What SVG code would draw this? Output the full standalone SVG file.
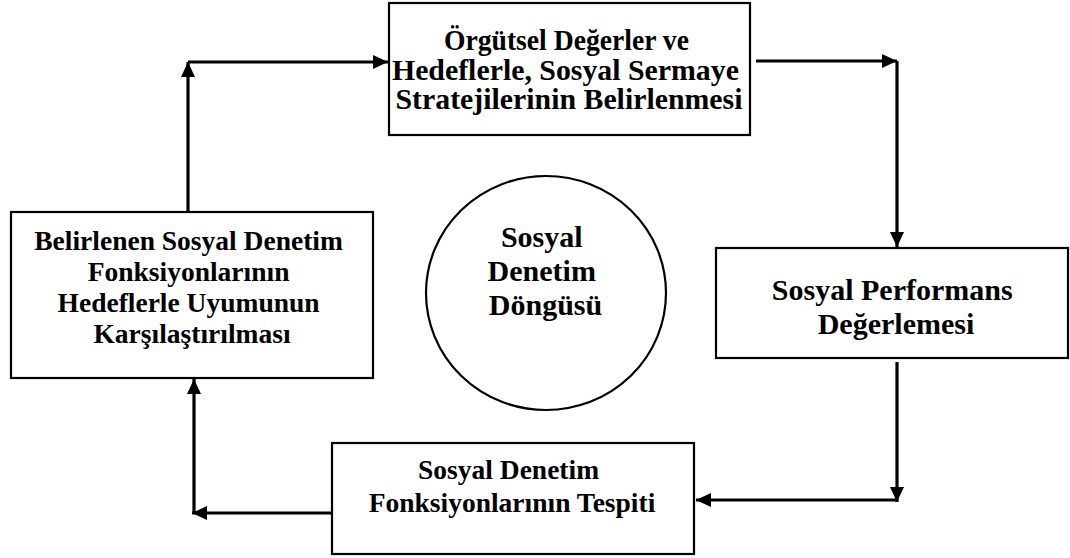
<svg xmlns="http://www.w3.org/2000/svg" width="1070" height="558" viewBox="0 0 1070 558">
<defs>
<style>
.box{fill:#fff;stroke:#000;stroke-width:2.2}
.t{font-family:"Liberation Serif","Times New Roman",serif;font-weight:bold;fill:#000;text-anchor:middle}
.c{fill:none;stroke:#000;stroke-width:3.2}
</style>
<marker id="ah" markerUnits="userSpaceOnUse" markerWidth="16" markerHeight="14" refX="15" refY="7" orient="auto">
<path d="M0,0 L15,7 L0,14 z" fill="#000"/>
</marker>
</defs>
<rect width="1070" height="558" fill="#fff"/>
<g id="connectors">
<path class="c" d="M188,212 L188,62" marker-end="url(#ah)"/>
<path class="c" d="M188,62 L388,62" marker-end="url(#ah)"/>
<path class="c" d="M756,61 L897,61" marker-end="url(#ah)"/>
<path class="c" d="M897,61 L897,247" marker-end="url(#ah)"/>
<path class="c" d="M897,362 L897,502" marker-end="url(#ah)"/>
<path class="c" d="M897,500 L696,500" marker-end="url(#ah)"/>
<path class="c" d="M332,513 L192,513" marker-end="url(#ah)"/>
<path class="c" d="M194,513 L194,379" marker-end="url(#ah)"/>
</g>
<g id="node-top">
<rect class="box" x="389" y="3" width="361" height="132"/>
<text class="t" font-size="28.5">
<tspan x="570" y="50" textLength="245" lengthAdjust="spacingAndGlyphs">Örgütsel Değerler ve</tspan>
<tspan x="569" y="80" textLength="347" lengthAdjust="spacingAndGlyphs">Hedeflerle, Sosyal Sermaye</tspan>
<tspan x="569" y="109" textLength="347" lengthAdjust="spacingAndGlyphs">Stratejilerinin Belirlenmesi</tspan>
</text>
</g>
<g id="node-left">
<rect class="box" x="11" y="212" width="362" height="166"/>
<text class="t" font-size="27.5">
<tspan x="192" y="250">Belirlenen Sosyal Denetim</tspan>
<tspan x="192" y="281">Fonksiyonlarının</tspan>
<tspan x="192" y="312">Hedeflerle Uyumunun</tspan>
<tspan x="192" y="343">Karşılaştırılması</tspan>
</text>
</g>
<g id="node-cycle">
<ellipse cx="546" cy="293" rx="120" ry="117" fill="#fff" stroke="#000" stroke-width="2.2"/>
<text class="t" font-size="30">
<tspan x="545.5" y="247">Sosyal</tspan>
<tspan x="545.5" y="281">Denetim</tspan>
<tspan x="545.5" y="315">Döngüsü</tspan>
</text>
</g>
<g id="node-right">
<rect class="box" x="716" y="248" width="352" height="110"/>
<text class="t" font-size="30">
<tspan x="896" y="300">Sosyal Performans</tspan>
<tspan x="896" y="334">Değerlemesi</tspan>
</text>
</g>
<g id="node-bottom">
<rect class="box" x="332" y="443" width="362" height="111"/>
<text class="t" font-size="27.5">
<tspan x="512" y="479">Sosyal Denetim</tspan>
<tspan x="512" y="512">Fonksiyonlarının Tespiti</tspan>
</text>
</g>
</svg>
